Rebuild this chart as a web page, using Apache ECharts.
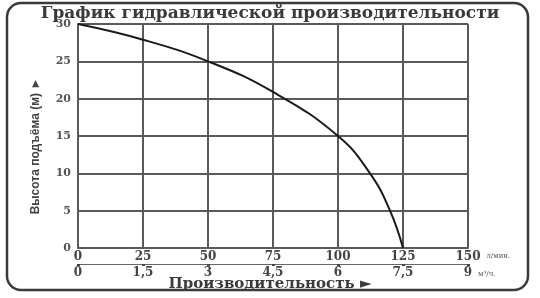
<!DOCTYPE html>
<html><head><meta charset="utf-8">
<script src="https://cdn.jsdelivr.net/npm/echarts@6/dist/echarts.min.js"></script>
<style>html,body{margin:0;padding:0;background:#fff}#c{width:540px;height:298px}</style>
</head><body><div id="c"></div>
<script>
const titleText = 'График гидравлической производительности';
const yName = 'Высота подъёма (м) ►';
const xName = 'Производительность ►';
const flowLpm = [0, 25, 50, 75, 100, 112.3, 120, 125];
const headM   = [30, 27.9, 25, 20.9, 15, 10, 5, 0];
const xTicksLpm = [0, 25, 50, 75, 100, 125, 150];
const xTicksM3h = [0, 1.5, 3, 4.5, 6, 7.5, 9];
const yTicks = [0, 5, 10, 15, 20, 25, 30];

const serif = '"DejaVu Serif", "Liberation Serif", serif';
const chart = echarts.init(document.getElementById('c'), null, {renderer: 'canvas'});
const gridColor = '#5a5a5a';
chart.setOption({
  animation: false,
  backgroundColor: '#fff',
  title: {
    text: titleText, left: 'center', top: 0,
    textStyle: {fontFamily: serif, fontWeight: 'bold', fontSize: 17, color: '#3a3a3a'}
  },
  grid: {left: 78, right: 72, top: 24, bottom: 50},
  xAxis: [{
    type: 'value', min: 0, max: 150, interval: 25, position: 'bottom',
    name: 'л/мин.', nameLocation: 'end', nameGap: 5,
    nameTextStyle: {fontFamily: serif, fontSize: 7, color: '#555', verticalAlign: 'top', padding: [5,0,0,0]},
    axisLine: {show: true, lineStyle: {color: gridColor, width: 2}},
    axisTick: {show: false},
    axisLabel: {margin: 3, fontFamily: serif, fontWeight: 'bold', fontSize: 12, color: '#444'},
    splitLine: {show: true, lineStyle: {color: gridColor, width: 2}}
  }, {
    type: 'value', min: 0, max: 9, interval: 1.5, position: 'bottom', offset: 16,
    name: 'м³/ч.', nameLocation: 'end', nameGap: 6,
    nameTextStyle: {fontFamily: serif, fontSize: 7, color: '#555', verticalAlign: 'top', padding: [7,0,0,0]},
    axisLine: {show: true, lineStyle: {color: '#666', width: 1}},
    axisTick: {show: true, length: 2, inside: false, lineStyle: {color: '#444', width: 3}},
    axisLabel: {margin: 3, fontFamily: serif, fontWeight: 'bold', fontSize: 12, color: '#444',
      formatter: v => String(v).replace('.', ',')},
    splitLine: {show: false}
  }],
  yAxis: {
    type: 'value', min: 0, max: 30, interval: 5,
    axisLine: {show: true, lineStyle: {color: gridColor, width: 2}},
    axisTick: {show: false},
    axisLabel: {margin: 7, fontFamily: serif, fontWeight: 'bold', fontSize: 11, color: '#555'},
    splitLine: {show: true, lineStyle: {color: gridColor, width: 2}}
  },
  series: [{
    type: 'line', xAxisIndex: 0, smooth: 0.45, symbol: 'none',
    lineStyle: {color: '#1a1a1a', width: 2},
    data: flowLpm.map((x, i) => [x, headM[i]])
  }],
  graphic: [
    {type: 'rect', shape: {x: 7, y: 3, width: 521, height: 287, r: 14}, style: {fill: null, stroke: '#3a3a3a', lineWidth: 2.5}, silent: true},
    {type: 'text', left: 'center', top: 277, style: {text: xName, font: 'bold 15px ' + serif, fill: '#3a3a3a'}},
    {type: 'text', x: 36, y: 146, rotation: Math.PI / 2,
     style: {text: yName, font: 'bold 12px "Liberation Sans Narrow", "Liberation Sans", sans-serif', fill: '#444', align: 'center', verticalAlign: 'middle'}}
  ]
});
</script></body></html>
